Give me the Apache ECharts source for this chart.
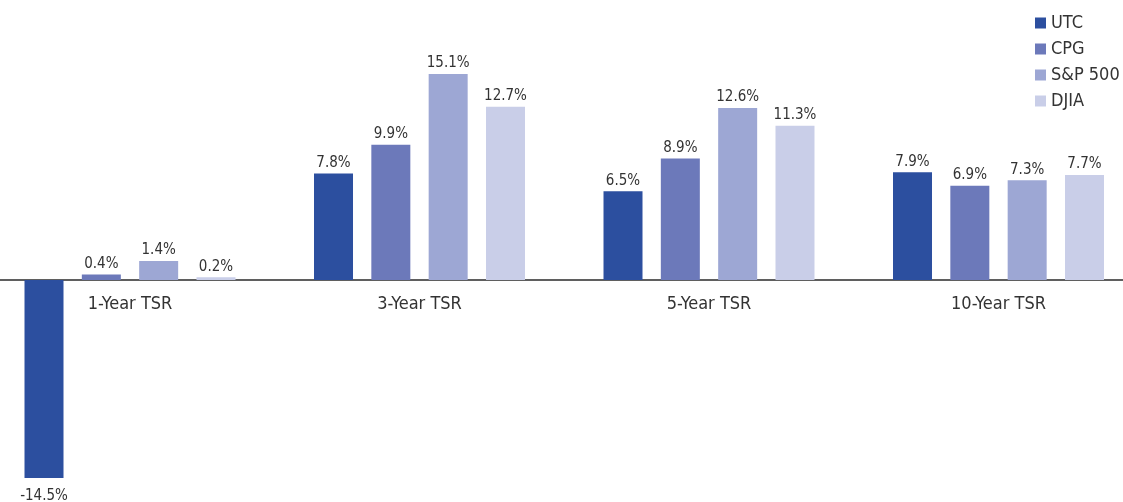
<!DOCTYPE html>
<html>
<head>
<meta charset="utf-8">
<script src="https://cdn.jsdelivr.net/npm/echarts@6/dist/echarts.min.js"></script>
<style>html,body{margin:0;padding:0;background:#fff}#c{width:1123px;height:502px}</style>
</head>
<body>
<div id="c"></div>
<script>
const categories = ['1-Year TSR', '3-Year TSR', '5-Year TSR', '10-Year TSR'];
const seriesNames = ['UTC', 'CPG', 'S&P 500', 'DJIA'];
const utc = [-14.5, 7.8, 6.5, 7.9];
const cpg = [0.4, 9.9, 8.9, 6.9];
const sp500 = [1.4, 15.1, 12.6, 7.3];
const djia = [0.2, 12.7, 11.3, 7.7];
const colors = ['#2c4f9f', '#6c79ba', '#9da7d4', '#c9cee8'];

const FONT = "'DejaVu Sans Condensed', 'Liberation Sans Narrow', 'Arial Narrow', sans-serif";
const chart = echarts.init(document.getElementById('c'));
const allData = [utc, cpg, sp500, djia];

chart.setOption({
  animation: false,
  backgroundColor: '#ffffff',
  grid: { left: -14.75, right: -20.25, top: 7, bottom: 3.6, containLabel: false, outerBoundsMode: 'none' },
  legend: {
    orient: 'vertical',
    left: 1030,
    top: 9,
    itemWidth: 11,
    itemHeight: 11,
    itemGap: 8,
    icon: 'rect',
    textStyle: { fontFamily: FONT, fontSize: 18, color: '#333', lineHeight: 18 },
    data: seriesNames
  },
  xAxis: {
    type: 'category',
    data: categories,
    position: 'bottom',
    offset: -218.4,
    axisLine: { onZero: false, lineStyle: { color: '#2a2a2a', width: 1.5 } },
    axisTick: { show: false },
    axisLabel: { fontFamily: FONT, fontSize: 18, color: '#333', margin: 15 }
  },
  yAxis: {
    type: 'value',
    min: -16,
    max: 20,
    show: false,
    splitLine: { show: false }
  },
  series: seriesNames.map((name, i) => ({
    name: name,
    type: 'bar',
    barWidth: 39,
    barGap: '47%',
    itemStyle: { color: colors[i] },
    label: {
      show: true,
      position: 'top',
      distance: 3,
      fontFamily: FONT,
      fontSize: 15,
      color: '#333',
      formatter: p => p.value.toFixed(1) + '%'
    },
    data: allData[i].map(v => v < 0 ? { value: v, label: { position: 'bottom', distance: 11 } } : v)
  }))
});
</script>
</body>
</html>
